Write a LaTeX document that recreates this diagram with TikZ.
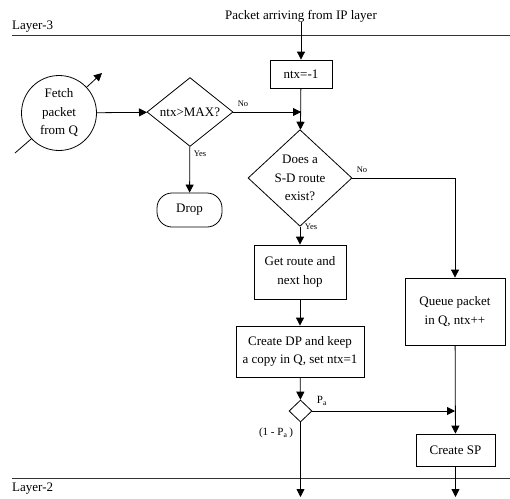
\documentclass[tikz,border=0pt]{standalone}
\usepackage{fontspec}
\setmainfont{Liberation Serif}
\usetikzlibrary{shapes.geometric,arrows.meta}
\begin{document}
\begin{tikzpicture}[x=1pt,y=-1pt,
  base/.style={draw,line width=0.8pt,inner sep=1pt,align=center,font=\fontsize{13}{18.5}\selectfont},
  boxnode/.style={base,rectangle},
  decision/.style={base,diamond,inner sep=0pt},
  small/.style={font=\fontsize{8.5}{9}\selectfont,inner sep=0pt},
  txt/.style={font=\fontsize{13}{15}\selectfont,inner sep=0pt},
  conn/.style={line width=0.8pt,-{Triangle[length=8pt,width=8pt]}},
  plain/.style={line width=0.8pt}]
\useasboundingbox (0,0) rectangle (510,498);
% layer lines
\draw[line width=1pt,black!80] (12,35) -- (510,35);
\draw[line width=1pt,black!80] (12,478) -- (510,478);
\node[txt,anchor=west] (l3) at (12,27) {Layer-3};
\node[txt,anchor=west] (l2) at (12,489) {Layer-2};
\node[txt] (src) at (301,16) {Packet arriving from IP layer};
% nodes
\node[boxnode,minimum width=62,minimum height=28] (ntx) at (301,74) {ntx=-1};
\coordinate (lin) at (15,153);
\coordinate (lout) at (102,73);
\node[base,circle,minimum size=75,fill=white] (fetch) at (59,113) {Fetch\\packet\\from Q};
\node[decision,minimum width=86,minimum height=66] (d1) at (190,112) {ntx>MAX?};
\node[boxnode,rounded corners=15pt,minimum width=65,minimum height=34] (drop) at (189.5,210) {Drop};
\node[decision,minimum width=104,minimum height=84] (d2) at (300,178) {Does a\\S-D route\\exist?};
\node[boxnode,minimum width=92,minimum height=54] (route) at (300,272) {Get route and\\next hop};
\node[boxnode,minimum width=128,minimum height=51] (dp) at (300,351.5) {Create DP and keep\\a copy in Q, set ntx=1};
\node[draw,diamond,line width=0.8pt,inner sep=0pt,minimum width=23,minimum height=22] (sd) at (300.5,411) {};
\node[boxnode,minimum width=100,minimum height=67] (queue) at (455,311.5) {Queue packet\\in Q, ntx++};
\node[boxnode,minimum width=79,minimum height=32] (sp) at (455.5,450) {Create SP};
\coordinate (outl) at (300.5,497);
\coordinate (outr) at (455.5,497);
% labels
\node[small] (no1) at (243,104) {No};
\node[small] (yes1) at (200,154) {Yes};
\node[small] (no2) at (362,170) {No};
\node[small] (yes2) at (311,227) {Yes};
\node[font=\fontsize{11}{12}\selectfont,inner sep=0pt] (pa) at (322,401) {P\textsubscript{a}};
\node[font=\fontsize{11}{12}\selectfont,inner sep=0pt] (npa) at (276,433) {(1 - P\textsubscript{a}\,)};
% connectors
\draw[conn] (src) -- (ntx);
\draw[plain] (lin) -- (fetch.223);
\draw[conn] (fetch.43) -- (lout);
\draw[conn] (fetch) -- (d1);
\draw[conn] (d1.east) -- (ntx.south |- d1.east);
\draw[conn] (ntx) -- (d2);
\draw[conn] (d1) -- (drop);
\draw[conn] (d2.east) -| (queue.north);
\draw[conn] (d2) -- (route);
\draw[conn] (route) -- (dp);
\draw[conn] (dp) -- (sd);
\draw[conn] (sd.east) -- (queue.south |- sd.east);
\draw[conn] (queue) -- (sp);
\draw[conn] (sd.south) -- (outl);
\draw[conn] (sp.south) -- (outr);
\end{tikzpicture}
\end{document}
